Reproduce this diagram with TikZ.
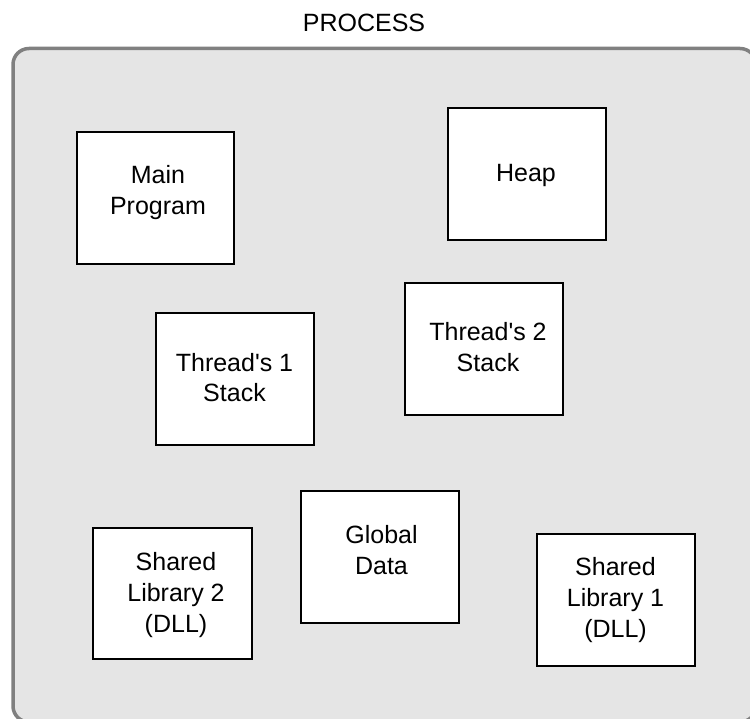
\documentclass[tikz,border=0pt]{standalone}
\usepackage{fontspec}
\setmainfont{Liberation Sans}
\begin{document}
\begin{tikzpicture}[x=1pt,y=-1pt,
  frame/.style={draw=black!50,line width=3.5pt,fill=black!10,rounded corners=16pt},
  membox/.style={draw=black,line width=2pt,fill=white},
  lbl/.style={anchor=base,inner sep=0pt,font=\fontsize{25}{31}\selectfont}]
\useasboundingbox (0,0) rectangle (750,719);
\clip (0,0) rectangle (750,719);
% process container
\draw[frame] (13,48.5) rectangle (756,722);
\node[lbl] (title) at (364,31.5) {PROCESS};
% memory regions
\draw[membox] (77,132) rectangle (234,264);
\node[lbl] (main1) at (158,184) {Main};
\node[lbl] (main2) at (158,215) {Program};

\draw[membox] (448,108) rectangle (606,240);
\node[lbl] (heap) at (526,181.5) {Heap};

\draw[membox] (156,313) rectangle (314,445);
\node[lbl] (ta1) at (234.5,371) {Thread\textquotesingle s 1};
\node[lbl] (ta2) at (234.5,402) {Stack};

\draw[membox] (405,283) rectangle (563,415);
\node[lbl] (tb1) at (488,341) {Thread\textquotesingle s 2};
\node[lbl] (tb2) at (488,371) {Stack};

\draw[membox] (93,528) rectangle (252,659);
\node[lbl] (sb1) at (176,570.5) {Shared};
\node[lbl] (sb2) at (176,601.5) {Library 2};
\node[lbl] (sb3) at (176,632.5) {(DLL)};

\draw[membox] (301,491) rectangle (459,623);
\node[lbl] (gd1) at (381.5,543) {Global};
\node[lbl] (gd2) at (381.5,574) {Data};

\draw[membox] (537,534) rectangle (695,666);
\node[lbl] (sa1) at (615.5,575) {Shared};
\node[lbl] (sa2) at (615.5,606) {Library 1};
\node[lbl] (sa3) at (615.5,637) {(DLL)};
\end{tikzpicture}
\end{document}
